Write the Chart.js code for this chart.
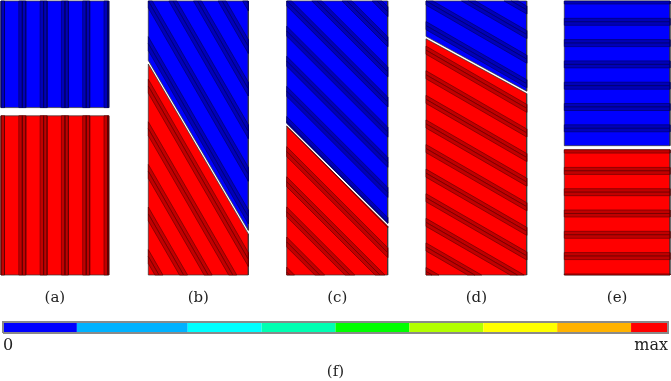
<!DOCTYPE html>
<html>
<head>
<meta charset="utf-8">
<script src="https://cdn.jsdelivr.net/npm/chart.js@4.4.0/dist/chart.umd.min.js"></script>
<style>
  html, body { margin: 0; padding: 0; background: #fff; }
  #wrap { position: relative; width: 671px; height: 381px; overflow: hidden; }
  #panels { position: absolute; left: 0; top: 0; }
  #bar { position: absolute; left: 0; top: 310px; }
</style>
</head>
<body>
<div id="wrap">
  <canvas id="panels" width="671" height="310"></canvas>
  <canvas id="bar" width="671" height="71"></canvas>
</div>
<script>
// ---- data ----
const panelLabels = ['(a)', '(b)', '(c)', '(d)', '(e)'];
const fibreAngle = [90, 60, 45, 30, 0];          // degrees below horizontal
// crack faces as a fraction of specimen height from the top, [left, right]
const upperFace = [[0.389, 0.389], [0.217, 0.837], [0.446, 0.811], [0.129, 0.329], [0.528, 0.528]];
const lowerFace = [[0.419, 0.419], [0.230, 0.850], [0.457, 0.822], [0.138, 0.338], [0.543, 0.543]];
// contour legend
const levelEdges = [0, 1, 2.5, 3.5, 4.5, 5.5, 6.5, 7.5, 8.5, 9];
const levelColours = ['#0000ff', '#00b2ff', '#00ffff', '#00ffb2', '#00ff00', '#b2ff00', '#ffff00', '#ffb200', '#ff0000'];
const barTickValues = [0, 9];
const barTickLabels = ['0', 'max'];

// ---- layout ----
const FONT = 'DejaVu Serif';
const panelLeft = [1, 148.3, 286.7, 426, 564.3];
const panelWidth = [107.7, 100, 101, 100.7, 105.7];
const TOP = 1, BOTTOM = 275;
const SPACING = 21.3, BAND = 7;
const stripePhase = [0, 0, 0, 0, -0.5];

const topColour = '#0000ff', topBand = '#0000b8', topLine = '#00005a';
const botColour = '#ff0000', botBand = '#c00000', botLine = '#5a0000';

// keep the part of poly where nx*x + ny*y <= c
function clipHalf(poly, nx, ny, c) {
  const out = [];
  for (let i = 0; i < poly.length; i++) {
    const p = poly[i], q = poly[(i + 1) % poly.length];
    const dp = nx * p.x + ny * p.y - c;
    const dq = nx * q.x + ny * q.y - c;
    if (dp <= 0) out.push(p);
    if ((dp < 0 && dq > 0) || (dp > 0 && dq < 0)) {
      const t = dp / (dp - dq);
      out.push({ x: p.x + t * (q.x - p.x), y: p.y + t * (q.y - p.y) });
    }
  }
  return out;
}

function polySet(pts, fill, line, width) {
  return {
    data: pts.concat([pts[0]]),
    showLine: true,
    fill: 'shape',
    backgroundColor: fill,
    borderColor: line,
    borderWidth: width,
    pointRadius: 0,
    tension: 0,
    clip: false
  };
}

const drawOrder = [];
const H = BOTTOM - TOP;

panelLabels.forEach((lab, i) => {
  const L = panelLeft[i], R = L + panelWidth[i];
  const up = [{ x: L, y: TOP }, { x: R, y: TOP },
              { x: R, y: TOP + upperFace[i][1] * H }, { x: L, y: TOP + upperFace[i][0] * H }];
  const lo = [{ x: L, y: TOP + lowerFace[i][0] * H }, { x: R, y: TOP + lowerFace[i][1] * H },
              { x: R, y: BOTTOM }, { x: L, y: BOTTOM }];

  const a = fibreAngle[i] * Math.PI / 180;
  const nx = -Math.sin(a), ny = Math.cos(a);
  const d0 = nx * L + ny * TOP + stripePhase[i];

  [[up, topColour, topBand, topLine], [lo, botColour, botBand, botLine]].forEach(([reg, col, band, line]) => {
    drawOrder.push(polySet(reg, col, '#333', 0.7));
    const ds = reg.map(p => nx * p.x + ny * p.y);
    const kMin = Math.floor((Math.min(...ds) - d0) / SPACING) - 1;
    const kMax = Math.ceil((Math.max(...ds) - d0) / SPACING) + 1;
    for (let k = kMin; k <= kMax; k++) {
      const c = d0 + k * SPACING;
      [[c - BAND / 2, c], [c, c + BAND / 2]].forEach(([d1, d2]) => {
        let p = clipHalf(reg, nx, ny, d2);
        p = clipHalf(p, -nx, -ny, -d1);
        if (p.length > 2) drawOrder.push(polySet(p, band, line, 0.6));
      });
    }
  });
});

const panelCentres = panelLeft.map((l, i) => l + panelWidth[i] / 2);

new Chart(document.getElementById('panels'), {
  type: 'scatter',
  data: { datasets: drawOrder.slice().reverse() },
  options: {
    responsive: false,
    animation: false,
    events: [],
    plugins: { legend: { display: false }, tooltip: { enabled: false } },
    scales: {
      x: {
        type: 'linear', min: 0, max: 671,
        grid: { display: false, drawTicks: false },
        border: { display: false },
        afterBuildTicks: ax => { ax.ticks = panelCentres.map(v => ({ value: v })); },
        afterFit: ax => { ax.height = 34; },
        ticks: {
          autoSkip: false, maxRotation: 0, padding: 13, color: '#222',
          font: { family: FONT, size: 15 },
          callback: (v, i) => panelLabels[i]
        }
      },
      y: { type: 'linear', display: false, min: 0, max: 276, reverse: true }
    }
  }
});

// ---- colour legend ----
const barSets = [];
levelColours.forEach((c, i) => {
  const x0 = levelEdges[i], x1 = levelEdges[i + 1];
  barSets.push(polySet([{ x: x0, y: 0 }, { x: x1, y: 0 }, { x: x1, y: 1 }, { x: x0, y: 1 }], c, c, 0));
});
barSets.push({
  data: [{ x: 0, y: 0 }, { x: 9, y: 0 }, { x: 9, y: 1 }, { x: 0, y: 1 }, { x: 0, y: 0 }],
  showLine: true, fill: false, borderColor: '#8a8a8a', borderWidth: 2, pointRadius: 0, clip: false
});

new Chart(document.getElementById('bar'), {
  type: 'scatter',
  data: { datasets: barSets.reverse() },
  options: {
    responsive: false,
    animation: false,
    events: [],
    layout: { padding: { top: 12, left: 1, right: 1, bottom: 0 } },
    plugins: { legend: { display: false }, tooltip: { enabled: false } },
    scales: {
      x: {
        type: 'linear', min: levelEdges[0], max: levelEdges[levelEdges.length - 1],
        grid: { display: false, drawTicks: false },
        border: { display: false },
        afterBuildTicks: ax => { ax.ticks = barTickValues.map(v => ({ value: v })); },
        afterFit: ax => { ax.height = 48; },
        ticks: {
          autoSkip: false, maxRotation: 0, padding: 3, align: 'inner', color: '#222',
          font: { family: FONT, size: 16 },
          callback: (v, i) => barTickLabels[i]
        },
        title: {
          display: true, text: '(f)', color: '#222',
          font: { family: FONT, size: 15 },
          padding: { top: 0, bottom: 0 }
        }
      },
      y: { type: 'linear', display: false, min: 0, max: 1 }
    }
  }
});
</script>
</body>
</html>
